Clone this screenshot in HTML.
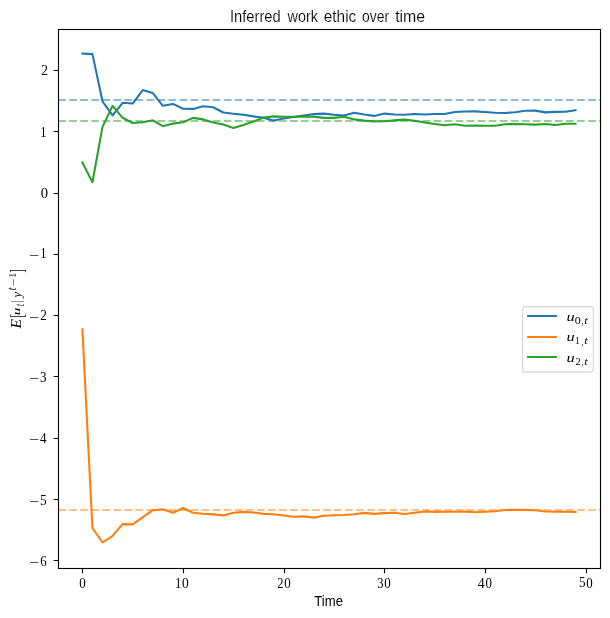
<!DOCTYPE html>
<html><head><meta charset="utf-8"><title>Inferred work ethic over time</title><style>html,body{margin:0;padding:0;background:#fff;}svg{display:block;will-change:transform;}</style></head><body>
<svg width="610" height="618" viewBox="0 0 610 618">
<rect width="610" height="618" fill="#fff"/>
<defs><clipPath id="ax"><rect x="57.74" y="29.50" width="542.50" height="539.00"/></clipPath></defs>
<g clip-path="url(#ax)" fill="none" stroke-width="2" stroke-dasharray="7.708 3.333" opacity="0.50">
<line x1="47.099" y1="100.00" x2="600.24" y2="100.00" stroke="#1f77b4"/>
<line x1="47.099" y1="121.00" x2="600.24" y2="121.00" stroke="#2ca02c"/>
<line x1="47.099" y1="510.00" x2="600.24" y2="510.00" stroke="#ff7f0e"/>
</g>
<g clip-path="url(#ax)" fill="none" stroke-width="2.083" stroke-linecap="square" stroke-linejoin="round">
<polyline points="82.38,53.50 92.44,54.10 102.51,101.30 112.57,115.40 122.64,102.80 132.70,103.50 142.77,90.10 152.83,93.10 162.90,105.80 172.96,103.90 183.03,108.70 193.09,108.90 203.16,106.30 213.22,107.30 223.29,112.50 233.35,113.80 243.42,114.80 253.48,116.40 263.55,117.80 273.62,120.50 283.68,118.50 293.75,117.00 303.81,115.50 313.88,114.00 323.94,113.60 334.00,114.70 344.07,115.50 354.13,112.70 364.20,114.50 374.26,115.90 384.33,113.60 394.39,114.50 404.46,114.70 414.52,114.00 424.59,114.50 434.65,114.00 444.72,114.00 454.78,112.00 464.85,111.50 474.91,111.40 484.98,112.00 495.04,112.70 505.11,113.00 515.17,112.20 525.24,110.70 535.30,110.60 545.37,112.40 555.43,111.90 565.50,111.70 575.57,110.20" stroke="#1f77b4"/>
<polyline points="82.38,329.30 92.44,528.00 102.51,542.50 112.57,535.90 122.64,524.10 132.70,524.40 142.77,517.10 152.83,510.20 162.90,509.30 172.96,512.70 183.03,508.00 193.09,512.70 203.16,513.70 213.22,514.40 223.29,515.40 233.35,512.70 243.42,511.90 253.48,512.50 263.55,513.90 273.62,514.20 283.68,515.50 293.75,516.80 303.81,516.40 313.88,517.60 323.94,515.80 334.00,515.20 344.07,515.00 354.13,514.20 364.20,512.90 374.26,513.90 384.33,513.10 394.39,512.70 404.46,514.00 414.52,512.70 424.59,511.50 434.65,511.90 444.72,511.70 454.78,511.70 464.85,511.50 474.91,512.20 484.98,511.80 495.04,511.20 505.11,510.00 515.17,509.70 525.24,509.90 535.30,510.30 545.37,511.50 555.43,511.70 565.50,511.70 575.57,512.00" stroke="#ff7f0e"/>
<polyline points="82.38,162.40 92.44,182.20 102.51,126.90 112.57,105.90 122.64,117.80 132.70,123.00 142.77,122.30 152.83,120.30 162.90,126.20 172.96,123.60 183.03,122.20 193.09,117.90 203.16,119.40 213.22,122.40 223.29,124.60 233.35,128.00 243.42,124.90 253.48,121.50 263.55,117.50 273.62,116.40 283.68,116.80 293.75,116.80 303.81,116.60 313.88,116.60 323.94,117.90 334.00,117.90 344.07,116.80 354.13,119.40 364.20,120.60 374.26,121.40 384.33,121.20 394.39,120.40 404.46,119.60 414.52,120.80 424.59,122.50 434.65,124.00 444.72,125.30 454.78,124.30 464.85,125.70 474.91,125.50 484.98,125.70 495.04,125.80 505.11,124.20 515.17,124.00 525.24,124.20 535.30,124.60 545.37,124.00 555.43,125.00 565.50,123.70 575.57,123.80" stroke="#2ca02c"/>
</g>
<rect x="58.5" y="29.5" width="542" height="539" fill="none" stroke="#000" stroke-width="1.11"/>
<path d="M53.64 70.5H58.5 M53.64 131.5H58.5 M53.64 193.5H58.5 M53.64 254.5H58.5 M53.64 315.5H58.5 M53.64 376.5H58.5 M53.64 438.5H58.5 M53.64 499.5H58.5 M53.64 560.5H58.5 M82.5 568.5V573.36 M183.5 568.5V573.36 M284.5 568.5V573.36 M384.5 568.5V573.36 M485.5 568.5V573.36 M586.5 568.5V573.36" stroke="#000" stroke-width="1.11" fill="none"/>
<g fill="#000"><text transform="translate(41.21 74.53) scale(0.9622 1)" font-family="Liberation Serif" font-size="14.00">2</text><text transform="translate(40.20 136.62) scale(0.8927 1)" font-family="Liberation Serif" font-size="14.00">1</text><text transform="translate(40.74 197.59) scale(1.0449 1)" font-family="Liberation Serif" font-size="14.00">0</text><text transform="translate(40.20 258.47) scale(0.8927 1)" font-family="Liberation Serif" font-size="14.00">1</text><text transform="translate(29.32 260.05) scale(1.2587 1)" font-family="Liberation Serif" font-size="14.00">−</text><text transform="translate(40.22 320.43) scale(0.9444 1)" font-family="Liberation Serif" font-size="14.00">2</text><text transform="translate(29.32 321.95) scale(1.2587 1)" font-family="Liberation Serif" font-size="14.00">−</text><text transform="translate(40.07 381.62) scale(0.9337 1)" font-family="Liberation Serif" font-size="14.00">3</text><text transform="translate(29.32 383.15) scale(1.2587 1)" font-family="Liberation Serif" font-size="14.00">−</text><text transform="translate(39.94 442.51) scale(0.9373 1)" font-family="Liberation Serif" font-size="14.00">4</text><text transform="translate(29.32 444.15) scale(1.2587 1)" font-family="Liberation Serif" font-size="14.00">−</text><text transform="translate(40.02 504.52) scale(0.9575 1)" font-family="Liberation Serif" font-size="14.00">5</text><text transform="translate(29.32 506.15) scale(1.2587 1)" font-family="Liberation Serif" font-size="14.00">−</text><text transform="translate(40.15 565.57) scale(0.9195 1)" font-family="Liberation Serif" font-size="14.00">6</text><text transform="translate(29.32 567.15) scale(1.2587 1)" font-family="Liberation Serif" font-size="14.00">−</text><text transform="translate(79.31 587.54) scale(0.9269 1)" font-family="Liberation Serif" font-size="14.00">0</text><text transform="translate(174.98 587.57) scale(0.9130 1)" font-family="Liberation Serif" font-size="14.00">1</text><text transform="translate(181.99 587.54) scale(0.9606 1)" font-family="Liberation Serif" font-size="14.00">0</text><text transform="translate(277.25 587.58) scale(0.8909 1)" font-family="Liberation Serif" font-size="14.00">2</text><text transform="translate(284.21 587.54) scale(0.9269 1)" font-family="Liberation Serif" font-size="14.00">0</text><text transform="translate(377.20 587.52) scale(0.8992 1)" font-family="Liberation Serif" font-size="14.00">3</text><text transform="translate(384.21 587.54) scale(0.9269 1)" font-family="Liberation Serif" font-size="14.00">0</text><text transform="translate(477.83 587.56) scale(0.9988 1)" font-family="Liberation Serif" font-size="14.00">4</text><text transform="translate(485.41 587.54) scale(0.9269 1)" font-family="Liberation Serif" font-size="14.00">0</text><text transform="translate(579.04 587.47) scale(0.9398 1)" font-family="Liberation Serif" font-size="14.00">5</text><text transform="translate(586.21 587.54) scale(0.9269 1)" font-family="Liberation Serif" font-size="14.00">0</text></g>
<g fill="#000" stroke="#fff" stroke-width="0.15"><text transform="translate(229.94 21.55) scale(0.9331 1)" font-family="Liberation Sans" font-size="15.80">Inferred</text><text transform="translate(287.62 21.55) scale(0.9130 1)" font-family="Liberation Sans" font-size="15.80">work</text><text transform="translate(323.75 21.55) scale(0.9756 1)" font-family="Liberation Sans" font-size="15.80">ethic</text><text transform="translate(362.02 21.55) scale(0.8789 1)" font-family="Liberation Sans" font-size="15.80">over</text><text transform="translate(395.16 21.55) scale(1.0067 1)" font-family="Liberation Sans" font-size="15.80">time</text></g>
<text transform="translate(314.31 605.70) scale(0.9515 1)" font-family="Liberation Sans" font-size="13.80">Time</text>
<g transform="translate(20.75 328.5) rotate(-90)" fill="#000"><text transform="translate(-0.02 0.05) scale(1.0463 1)" font-family="Liberation Serif" font-size="14.81" font-style="italic">E</text><text transform="translate(11.04 1.76) scale(0.5500 1)" font-family="Liberation Serif" font-size="17.88">[</text><text transform="translate(13.34 -0.48) scale(1.3773 1)" font-family="Liberation Serif" font-size="11.05" font-style="italic">u</text><text transform="translate(22.32 2.98) scale(0.7352 1)" font-family="Liberation Serif" font-size="11.79" font-style="italic">t</text><text transform="translate(26.36 0.08) scale(0.6000 1)" font-family="Liberation Serif" font-size="14.02">|</text><text transform="translate(31.01 0.23) scale(0.9626 1)" font-family="Liberation Serif" font-size="12.60" font-style="italic">y</text><text transform="translate(38.27 -4.97) scale(0.8293 1)" font-family="Liberation Serif" font-size="11.87" font-style="italic">t</text><text transform="translate(41.89 -3.81) scale(1.4592 1)" font-family="Liberation Serif" font-size="9.72">−</text><text transform="translate(50.98 -4.85) scale(0.9100 1)" font-family="Liberation Serif" font-size="10.30">1</text><text transform="translate(55.99 1.76) scale(0.5500 1)" font-family="Liberation Serif" font-size="17.88">]</text></g>
<rect x="522.6" y="306.6" width="70.7" height="65.5" rx="2.8" fill="#fff" fill-opacity="0.8" stroke="#ccc" stroke-opacity="0.8" stroke-width="1.11"/>
<g fill="#000"><line x1="528.1" y1="316.00" x2="555.9" y2="316.00" stroke="#1f77b4" stroke-width="2" stroke-linecap="square"/><text transform="translate(566.38 320.56) scale(1.3804 1)" font-family="Liberation Serif" font-size="11.90" font-style="italic">u</text><text transform="translate(574.64 323.56) scale(1.2589 1)" font-family="Liberation Serif" font-size="9.56">0</text><text transform="translate(581.62 324.04) scale(0.7296 1)" font-family="Liberation Serif" font-size="10.12">,</text><text transform="translate(584.15 323.54) scale(1.1191 1)" font-family="Liberation Serif" font-size="11.26" font-style="italic">t</text><line x1="528.1" y1="337.00" x2="555.9" y2="337.00" stroke="#ff7f0e" stroke-width="2" stroke-linecap="square"/><text transform="translate(566.38 341.11) scale(1.3804 1)" font-family="Liberation Serif" font-size="11.90" font-style="italic">u</text><text transform="translate(575.33 343.95) scale(0.9376 1)" font-family="Liberation Serif" font-size="9.39">1</text><text transform="translate(581.62 344.59) scale(0.7296 1)" font-family="Liberation Serif" font-size="10.12">,</text><text transform="translate(584.15 344.09) scale(1.1191 1)" font-family="Liberation Serif" font-size="11.26" font-style="italic">t</text><line x1="528.1" y1="357.00" x2="555.9" y2="357.00" stroke="#2ca02c" stroke-width="2" stroke-linecap="square"/><text transform="translate(566.38 361.66) scale(1.3804 1)" font-family="Liberation Serif" font-size="11.90" font-style="italic">u</text><text transform="translate(575.43 364.50) scale(1.1455 1)" font-family="Liberation Serif" font-size="9.36">2</text><text transform="translate(581.62 365.14) scale(0.7296 1)" font-family="Liberation Serif" font-size="10.12">,</text><text transform="translate(584.15 364.64) scale(1.1191 1)" font-family="Liberation Serif" font-size="11.26" font-style="italic">t</text></g>
</svg>
</body></html>
